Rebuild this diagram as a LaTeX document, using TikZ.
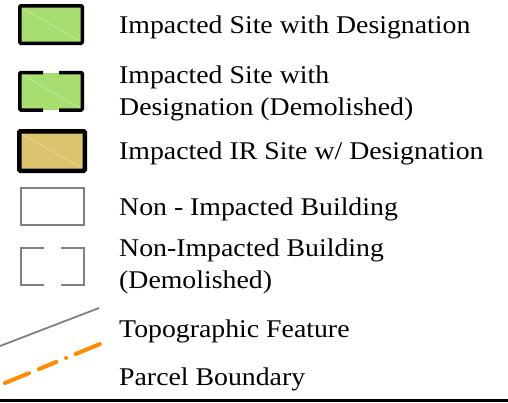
\documentclass[tikz,border=0pt]{standalone}
\usepackage{fontspec}
\setmainfont[FakeStretch=1.09]{Liberation Serif}
\definecolor{sitegreen}{RGB}{168,222,112}
\definecolor{irtan}{RGB}{220,196,110}
\definecolor{bldgray}{RGB}{128,128,128}
\definecolor{parcelorange}{RGB}{255,140,0}
\tikzset{
  lbl/.style={anchor=base west, inner sep=0pt, font=\fontsize{25.5}{32}\selectfont, text=black},
  thickblack/.style={draw=black, line width=3.5pt},
  thinbld/.style={draw=bldgray, line width=2pt},
  faint/.style={line width=0.3pt},
}
\begin{document}
\begin{tikzpicture}[x=1pt,y=-1pt]
\useasboundingbox (0,0) rectangle (508,402);
% Box 1: impacted site with designation
\fill[sitegreen] (19.75,5.75) rectangle (82.25,43.25);
\draw[faint, sitegreen!35!white] (21.5,7.5) -- (80.5,41.5);
\draw[thickblack, rounded corners=1pt] (19.75,5.75) rectangle (82.25,43.25);
% Box 2: demolished
\fill[sitegreen] (19.75,72.5) rectangle (82.25,110);
\draw[faint, sitegreen!35!white] (21.5,74.25) -- (80.5,108.25);
\draw[thickblack, rounded corners=1pt] (43,72.5) -- (19.75,72.5) -- (19.75,110) -- (43,110);
\draw[thickblack, rounded corners=1pt] (59,72.5) -- (82.25,72.5) -- (82.25,110) -- (59,110);
% Box 3: IR site
\fill[irtan] (19.25,131.25) rectangle (84.75,170.75);
\draw[faint, irtan!35!white] (21.5,133.5) -- (82.5,168.5);
\draw[draw=black, line width=4.5pt, rounded corners=1pt] (19.25,131.25) rectangle (84.75,170.75);
% Box 4: non-impacted building
\draw[thinbld] (21,188) rectangle (84,225);
% Box 5: non-impacted demolished
\draw[thinbld] (44,248) -- (21,248) -- (21,285) -- (44,285);
\draw[thinbld] (61,248) -- (84,248) -- (84,285) -- (61,285);
% Topographic feature
\coordinate (t1) at (0,346);
\coordinate (t2) at (99,308);
\draw[bldgray, line width=1.8pt] (t1) -- (t2);
% Parcel boundary
\coordinate (p1) at (5,383);
\coordinate (p2) at (100,344);
\draw[parcelorange, line width=4pt, line cap=round,
  dash pattern=on 26pt off 10.5pt on 19pt off 10.5pt on 0pt off 10.5pt] (p1) -- (p2);
% Bottom rule
\fill[black] (0,399) rectangle (508,402);
% Labels
\node[lbl] (l1) at (119,33) {Impacted Site with Designation};
\node[lbl] (l2a) at (119,83.5) {Impacted Site with};
\node[lbl] (l2b) at (119,115.5) {Designation (Demolished)};
\node[lbl] (l3) at (119,159) {Impacted IR Site w/ Designation};
\node[lbl] (l4) at (119,215) {Non - Impacted Building};
\node[lbl] (l5a) at (119,256) {Non-Impacted Building};
\node[lbl] (l5b) at (119,288) {(Demolished)};
\node[lbl] (l6) at (119,337) {Topographic Feature};
\node[lbl] (l7) at (119,385) {Parcel Boundary};
\end{tikzpicture}
\end{document}
